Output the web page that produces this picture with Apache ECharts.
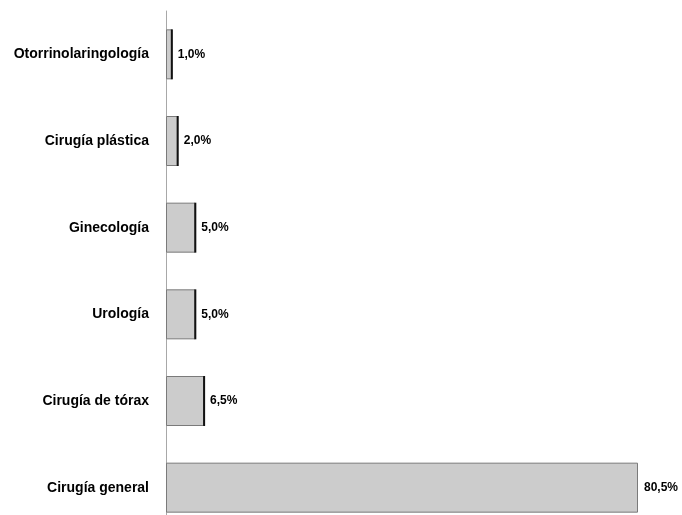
<!DOCTYPE html>
<html>
<head>
<meta charset="utf-8">
<script src="https://cdn.jsdelivr.net/npm/echarts@6/dist/echarts.min.js"></script>
<style>
  html, body { margin: 0; padding: 0; background: #fff; }
  #chart { width: 682px; height: 515px; }
</style>
</head>
<body>
<div id="chart"></div>
<script>
// Specialties, listed bottom to top along the category axis
const categories = [
  'Cirugía general',
  'Cirugía de tórax',
  'Urología',
  'Ginecología',
  'Cirugía plástica',
  'Otorrinolaringología'
];
// Share of cases per specialty (%)
const shares = [80.5, 6.5, 5.0, 5.0, 2.0, 1.0];

const FONT = '"Liberation Sans Narrow", "Arial Narrow", "Liberation Sans", sans-serif';

const chart = echarts.init(document.getElementById('chart'), null, { renderer: 'canvas' });

chart.setOption({
  animation: false,
  backgroundColor: '#ffffff',
  grid: {
    left: 166, top: 11, height: 520, right: 44,
    containLabel: false,
    outerBoundsMode: 'none'
  },
  xAxis: {
    type: 'value',
    min: 0,
    max: 80.5,
    show: false
  },
  yAxis: {
    type: 'category',
    data: categories,
    axisLine: { show: true, lineStyle: { color: '#a8a8a8', width: 1 } },
    axisTick: { show: false },
    axisLabel: {
      margin: 17,
      color: '#000',
      fontFamily: FONT,
      fontWeight: 'bold',
      fontSize: 14
    },
    splitLine: { show: false }
  },
  series: [
    {
      type: 'bar',
      data: shares,
      barWidth: 50,
      itemStyle: { color: '#cccccc', borderColor: '#7a7a7a', borderWidth: 1 },
      label: {
        show: true,
        position: 'right',
        distance: 6,
        color: '#000',
        fontFamily: FONT,
        fontWeight: 'bold',
        fontSize: 12,
        formatter: p => p.value.toFixed(1).replace('.', ',') + '%'
      },
      z: 2
    },
    {
      // dark shadow line along the end of the smaller bars
      type: 'custom',
      data: shares.map((v, i) => [v, i]),
      renderItem: (params, api) => {
        if (params.dataIndex === 0) return null;
        const end = api.coord([api.value(0), api.value(1)]);
        const half = 25;
        return {
          type: 'line',
          shape: { x1: end[0], y1: end[1] - half, x2: end[0], y2: end[1] + half },
          style: { stroke: '#111', lineWidth: 2 }
        };
      },
      z: 3,
      silent: true
    }
  ]
});
</script>
</body>
</html>
